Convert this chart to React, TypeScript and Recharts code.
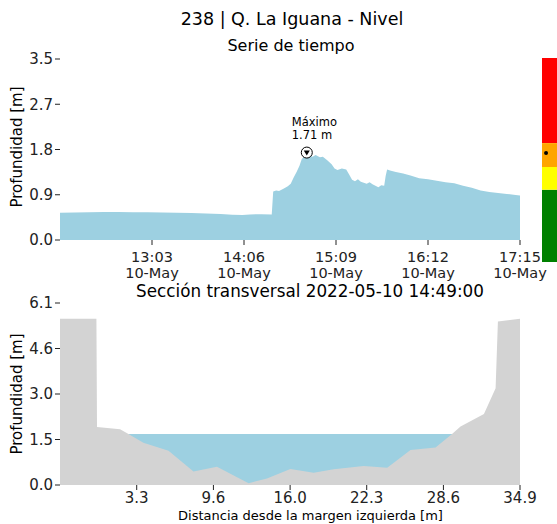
import React from 'react'
import {
  Area,
  AreaChart,
  ReferenceArea,
  ReferenceDot,
  Scatter,
  ScatterChart,
  XAxis,
  YAxis,
} from 'recharts'

// serie de tiempo: minutos desde las 12:00 del 10-May
const minutes = [
  0, 10, 20, 30, 40, 50, 60, 70, 80, 90, 100, 110, 118, 125, 130, 138, 145,
  146, 148, 150, 153, 156, 158, 160, 162, 164, 165.5, 167, 169, 171, 173, 175,
  178, 180, 183, 186, 188, 190, 193, 196, 198, 200, 202, 204, 206, 208, 210,
  212, 214, 216, 218, 220, 222, 223, 224, 226, 230, 235, 240, 246, 252, 258,
  264, 270, 276, 282, 288, 294, 300, 306, 312, 315,
]
const levels = [
  0.535, 0.54, 0.545, 0.55, 0.55, 0.545, 0.545, 0.54, 0.535, 0.53, 0.52, 0.51,
  0.495, 0.49, 0.5, 0.505, 0.5, 0.95, 0.97, 0.96, 1.0, 1.05, 1.1, 1.22, 1.33,
  1.45, 1.58, 1.63, 1.71, 1.65, 1.63, 1.66, 1.62, 1.63, 1.56, 1.48, 1.4, 1.37,
  1.4, 1.38, 1.28, 1.18, 1.15, 1.19, 1.14, 1.12, 1.1, 1.13, 1.09, 1.06, 1.03,
  1.07, 1.06, 1.25, 1.38, 1.36, 1.33, 1.3, 1.26, 1.21, 1.19, 1.16, 1.13, 1.11,
  1.06, 1.02, 0.97, 0.94, 0.92, 0.9, 0.88, 0.87,
]
const timeTicks = [63, 126, 189, 252, 315]
const timeTickLabels = ['13:03', '14:06', '15:09', '16:12', '17:15']
const dateLabel = '10-May'
const levelTicks = [0, 0.885, 1.77, 2.655, 3.54]

const peakMinute = 169
const peakLevel = 1.71

// umbrales de alerta (barra de colores)
const bandColors = ['#008000', '#ffff00', '#ffa500', '#ff0000']
const bandFrom = [0, 1.24, 1.63, 2.04]
const bandTo = [1.24, 1.63, 2.04, 3.5]
const currentMark = [{ x: 0.27, y: 1.87 }]

// sección transversal
const distances = [
  -3.0, 0.0, 0.05, 1.95, 2.64, 3.87, 5.94, 8.0, 9.93, 12.54, 14.05, 15.98,
  17.9, 19.55, 22.02, 23.96, 25.88, 27.94, 29.3, 30.0, 31.93, 32.89, 33.08,
  34.9,
]
const ground = [
  5.57, 5.57, 1.94, 1.87, 1.71, 1.42, 1.15, 0.45, 0.61, 0.06, 0.22, 0.54,
  0.41, 0.53, 0.64, 0.58, 1.17, 1.26, 1.71, 1.96, 2.38, 3.24, 5.48, 5.57,
]
const waterLevel = 1.71
const waterStart = 2.64
const waterEnd = 29.3
const distTicks = [3.32, 9.64, 15.96, 22.27, 28.59, 34.9]
const depthTicks = [0, 1.525, 3.05, 4.575, 6.1]

const seriesData = minutes.map((t, i) => ({ t, level: levels[i] }))
const sectionData = distances.map((d, i) => ({
  d,
  ground: ground[i],
  water: d >= waterStart && d <= waterEnd ? waterLevel : null,
}))

const BLUE = '#9dd0e1'
const GRAY = '#d3d3d3'
const FONT = 'DejaVu Sans, sans-serif'
const tickStyle = { fill: '#222', fontSize: 15 }

function TimeTick({ x, y, payload }: any) {
  const i = timeTicks.indexOf(payload.value)
  return (
    <g>
      <text x={x} y={y + 15} textAnchor="middle" fill="#222" fontSize={14.5}>
        {timeTickLabels[i]}
      </text>
      <text x={x} y={y + 31} textAnchor="middle" fill="#222" fontSize={14.5}>
        {dateLabel}
      </text>
    </g>
  )
}

function PeakMarker({ cx, cy }: any) {
  return (
    <g>
      <text x={cx - 15} y={cy - 27} fontSize={11.5} fill="#000">
        Máximo
      </text>
      <text x={cx - 15} y={cy - 14} fontSize={11.5} fill="#000">
        1.71 m
      </text>
      <circle cx={cx} cy={cy} r={5.5} fill="#fff" stroke="#000" strokeWidth={1} />
      <path
        d={`M${cx - 3},${cy - 2} L${cx + 3},${cy - 2} L${cx},${cy + 3} Z`}
        fill="#000"
      />
    </g>
  )
}

const yLabel: React.CSSProperties = {
  position: 'absolute',
  left: 17,
  width: 0,
  height: 0,
  display: 'flex',
  alignItems: 'center',
  justifyContent: 'center',
  whiteSpace: 'nowrap',
  fontSize: 15,
  color: '#000',
  transform: 'rotate(-90deg)',
}

export default function App() {
  return (
    <div
      style={{
        position: 'absolute',
        left: 0,
        top: 0,
        width: 557,
        height: 524,
        background: '#fff',
        fontFamily: FONT,
        overflow: 'hidden',
      }}
    >
      <div style={{ position: 'absolute', left: 0, width: 584, top: 8, textAlign: 'center', fontSize: 17.5, lineHeight: '22px' }}>
        238 | Q. La Iguana - Nivel
      </div>
      <div style={{ position: 'absolute', left: 0, width: 582, top: 36, textAlign: 'center', fontSize: 16, lineHeight: '20px' }}>
        Serie de tiempo
      </div>
      <div style={{ ...yLabel, top: 147 }}>Profundidad [m]</div>

      <div style={{ position: 'absolute', left: 0, top: 0 }}>
        <AreaChart
          width={557}
          height={285}
          data={seriesData}
          margin={{ top: 59, right: 37, bottom: 0, left: 15 }}
        >
          <XAxis
            dataKey="t"
            type="number"
            domain={[0, 315]}
            ticks={timeTicks}
            tick={<TimeTick />}
            tickSize={5}
            tickLine={{ stroke: '#222' }}
            axisLine={false}
            height={45}
          />
          <YAxis
            type="number"
            domain={[0, 3.54]}
            ticks={levelTicks}
            tickFormatter={(v) => v.toFixed(1)}
            tick={tickStyle}
            tickSize={5}
            tickLine={{ stroke: '#222' }}
            axisLine={false}
            width={45}
          />
          <Area
            type="linear"
            dataKey="level"
            stroke="none"
            fill={BLUE}
            fillOpacity={1}
            isAnimationActive={false}
          />
          <ReferenceDot x={peakMinute} y={peakLevel} shape={<PeakMarker />} />
        </AreaChart>
      </div>

      <div style={{ position: 'absolute', left: 542, top: 58 }}>
        <ScatterChart width={15} height={204} margin={{ top: 0, right: 0, bottom: 0, left: 0 }}>
          <XAxis type="number" dataKey="x" domain={[0, 1]} hide />
          <YAxis type="number" dataKey="y" domain={[0, 3.5]} hide />
          {bandColors.map((c, i) => (
            <ReferenceArea
              key={c}
              x1={0}
              x2={1}
              y1={bandFrom[i]}
              y2={bandTo[i]}
              fill={c}
              fillOpacity={1}
              stroke="none"
            />
          ))}
          <Scatter
            data={currentMark}
            fill="#000"
            shape={(p: any) => <circle cx={p.cx} cy={p.cy} r={2} fill="#000" />}
            isAnimationActive={false}
          />
        </ScatterChart>
      </div>

      <div style={{ position: 'absolute', left: 0, width: 620, top: 280, textAlign: 'center', fontSize: 16.8, lineHeight: '22px' }}>
        Sección transversal 2022-05-10 14:49:00
      </div>
      <div style={{ ...yLabel, top: 394 }}>Profundidad [m]</div>

      <div style={{ position: 'absolute', left: 0, top: 280 }}>
        <AreaChart
          width={557}
          height={230}
          data={sectionData}
          margin={{ top: 23, right: 37, bottom: 0, left: 15 }}
        >
          <XAxis
            dataKey="d"
            type="number"
            domain={[-3.0, 34.9]}
            ticks={distTicks}
            tickFormatter={(v) => v.toFixed(1)}
            tick={tickStyle}
            tickSize={5}
            tickLine={{ stroke: '#222' }}
            axisLine={false}
            height={25}
          />
          <YAxis
            type="number"
            domain={[0, 6.1]}
            ticks={depthTicks}
            tickFormatter={(v) => v.toFixed(1)}
            tick={tickStyle}
            tickSize={5}
            tickLine={{ stroke: '#222' }}
            axisLine={false}
            width={45}
          />
          <Area
            type="linear"
            dataKey="water"
            stroke="none"
            fill={BLUE}
            fillOpacity={1}
            isAnimationActive={false}
          />
          <Area
            type="linear"
            dataKey="ground"
            stroke="none"
            fill={GRAY}
            fillOpacity={1}
            isAnimationActive={false}
          />
        </AreaChart>
      </div>
      <div style={{ position: 'absolute', left: 0, width: 621, top: 508, textAlign: 'center', fontSize: 13, lineHeight: '16px' }}>
        Distancia desde la margen izquierda [m]
      </div>
    </div>
  )
}
